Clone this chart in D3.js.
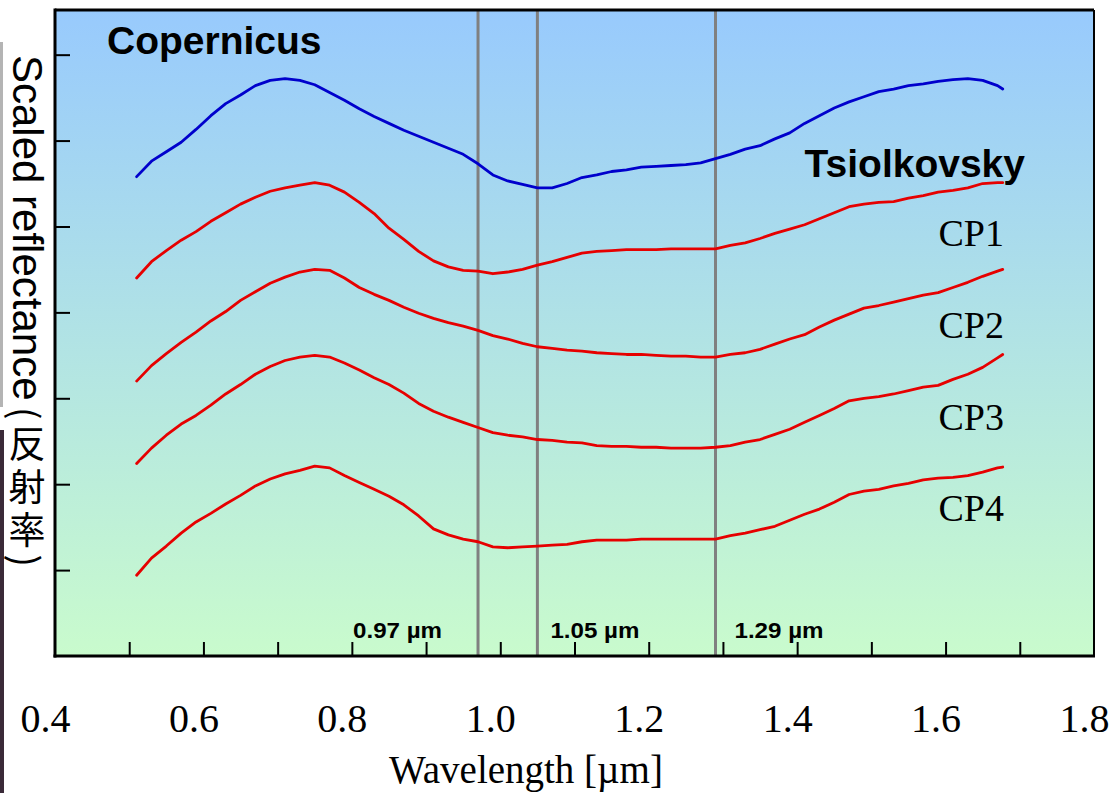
<!DOCTYPE html>
<html><head><meta charset="utf-8">
<script src="https://cdn.jsdelivr.net/npm/d3@7"></script>
<style>body{margin:0;background:#fff}svg{display:block}</style>
</head><body><svg id="c" width="1113" height="793"></svg>
<script>
// ---------------- data ----------------
const wavelength = [0.51,0.53,0.55,0.57,0.59,0.61,0.63,0.65,0.67,0.69,0.71,0.73,0.75,0.77,0.79,0.81,0.83,0.85,0.87,0.89,
  0.91,0.93,0.95,0.97,0.99,1.01,1.03,1.05,1.07,1.09,1.11,1.13,1.15,1.17,1.19,1.21,1.23,1.25,1.27,1.29,
  1.31,1.33,1.35,1.37,1.39,1.41,1.43,1.45,1.47,1.49,1.51,1.53,1.55,1.57,1.59,1.61,1.63,1.65,1.67,1.677];
const copernicus = [5.58,5.76,5.87,5.98,6.13,6.29,6.43,6.53,6.64,6.70,6.72,6.70,6.65,6.56,6.47,6.37,6.28,6.20,6.12,6.05,
  5.98,5.91,5.84,5.73,5.60,5.53,5.49,5.45,5.45,5.50,5.57,5.60,5.64,5.66,5.69,5.70,5.71,5.72,5.74,5.79,
  5.84,5.90,5.94,6.02,6.09,6.20,6.29,6.38,6.45,6.51,6.57,6.60,6.64,6.66,6.69,6.71,6.72,6.70,6.64,6.60];
const cp1 = [4.40,4.59,4.72,4.84,4.94,5.06,5.16,5.26,5.34,5.41,5.45,5.48,5.51,5.48,5.40,5.28,5.15,4.98,4.85,4.71,
  4.60,4.53,4.49,4.48,4.45,4.47,4.50,4.55,4.59,4.64,4.69,4.71,4.72,4.73,4.73,4.73,4.74,4.74,4.74,4.74,
  4.78,4.81,4.86,4.92,4.97,5.02,5.09,5.16,5.23,5.26,5.28,5.29,5.33,5.36,5.40,5.42,5.45,5.50,5.51,5.51];
const cp2 = [3.20,3.38,3.52,3.65,3.77,3.90,4.01,4.14,4.24,4.34,4.41,4.47,4.50,4.49,4.40,4.29,4.21,4.14,4.06,3.99,
  3.93,3.88,3.84,3.79,3.73,3.69,3.64,3.60,3.58,3.56,3.55,3.53,3.52,3.51,3.51,3.50,3.49,3.49,3.48,3.48,
  3.51,3.53,3.57,3.63,3.69,3.74,3.83,3.91,3.98,4.05,4.08,4.12,4.16,4.20,4.23,4.29,4.35,4.42,4.48,4.50];
const cp3 = [2.24,2.42,2.57,2.70,2.80,2.92,3.05,3.16,3.28,3.37,3.44,3.48,3.50,3.48,3.41,3.33,3.24,3.16,3.06,2.94,
  2.85,2.78,2.72,2.66,2.60,2.57,2.55,2.52,2.51,2.49,2.48,2.45,2.44,2.44,2.43,2.43,2.42,2.42,2.42,2.43,
  2.45,2.49,2.52,2.58,2.64,2.72,2.80,2.88,2.97,3.00,3.02,3.05,3.09,3.13,3.15,3.22,3.28,3.36,3.47,3.51];
const cp4 = [0.94,1.14,1.28,1.43,1.56,1.66,1.77,1.87,1.98,2.06,2.12,2.16,2.21,2.19,2.10,2.02,1.94,1.86,1.76,1.63,
  1.48,1.41,1.36,1.33,1.27,1.26,1.27,1.28,1.29,1.30,1.33,1.35,1.35,1.35,1.36,1.36,1.36,1.36,1.36,1.36,
  1.40,1.43,1.47,1.51,1.58,1.65,1.71,1.79,1.88,1.92,1.94,1.98,2.01,2.05,2.07,2.08,2.10,2.14,2.19,2.20];

const seriesNames = ["Copernicus","CP1","CP2","CP3","CP4"];
const seriesValues = [copernicus, cp1, cp2, cp3, cp4];
const seriesColors = ["#0000CC","#E60000","#E60000","#E60000","#E60000"];
const cpLabels = ["CP1","CP2","CP3","CP4"];
const cpLabelValues = [4.77, 3.7, 2.63, 1.57];   // vertical positions of the CP labels (in y units)
const xTickLabels = ["0.4","0.6","0.8","1.0","1.2","1.4","1.6","1.8"];
const xMinorTicks = [0.5,0.6,0.7,0.8,0.9,1.0,1.1,1.2,1.3,1.4,1.5,1.6,1.7];
const yTicks = [1,2,3,4,5,6,7];
const bandWavelengths = [0.97, 1.05, 1.29];
const bandLabels = ["0.97 µm","1.05 µm","1.29 µm"];
const xLabel = "Wavelength [µm]";
const yLabelLatin = "Scaled reflectance";
const yLabelCJK = "(反射率)";

// ---------------- layout ----------------
const svg = d3.select("#c");
const L = 55, R = 1094, T = 10, B = 656;
const x = d3.scaleLinear().domain([0.4, 1.8]).range([L, R]);
const y = d3.scaleLinear().domain([0, 7.52]).range([B, T]);

// left-edge strips of the underlying photo
svg.append("rect").attr("x",0).attr("y",42).attr("width",3).attr("height",365).attr("fill","#b4b4b4");
svg.append("rect").attr("x",0).attr("y",430).attr("width",4).attr("height",363).attr("fill","#3a2a38");

const defs = svg.append("defs");
const grad = defs.append("linearGradient").attr("id","bg").attr("x1",0).attr("x2",0).attr("y1",0).attr("y2",1);
grad.append("stop").attr("offset","0%").attr("stop-color","#98CAFD");
grad.append("stop").attr("offset","100%").attr("stop-color","#C9FBCD");
svg.append("rect").attr("x",L).attr("y",T).attr("width",R-L).attr("height",B-T).attr("fill","url(#bg)");

// band lines
svg.selectAll("line.band").data(bandWavelengths).join("line")
  .attr("class","band")
  .attr("x1",d=>x(d)).attr("x2",d=>x(d)).attr("y1",T).attr("y2",B)
  .attr("stroke","#808080").attr("stroke-width",3);

// band labels
const bandOffsets = [-36, 13, 19];
const bandAnchors = ["end","start","start"];
svg.selectAll("text.band").data(bandLabels).join("text")
  .attr("class","band")
  .attr("x",(d,i)=>x(bandWavelengths[i]) + bandOffsets[i])
  .attr("y",638)
  .attr("text-anchor",(d,i)=>bandAnchors[i])
  .attr("font-family","Liberation Sans, Arial, sans-serif").attr("font-weight","bold")
  .attr("font-size",22).attr("textLength",89).attr("lengthAdjust","spacingAndGlyphs")
  .text(d=>d);

// curves
const line = d3.line().x((d,i)=>x(wavelength[i])).y(d=>y(d));
svg.selectAll("path.series").data(seriesValues).join("path")
  .attr("class","series")
  .attr("d",d=>line(d))
  .attr("fill","none")
  .attr("stroke",(d,i)=>seriesColors[i])
  .attr("stroke-width",2.8)
  .attr("stroke-linejoin","round").attr("stroke-linecap","round");

// axes
const xAxisMinor = d3.axisBottom(x).tickValues(xMinorTicks).tickSize(-14).tickFormat("");
const gx = svg.append("g").attr("transform",`translate(0,${B})`).call(xAxisMinor);
gx.select(".domain").remove();
gx.selectAll(".tick line").attr("stroke","#000").attr("stroke-width",2);

const xAxisLabels = d3.axisBottom(x).tickValues(xTickLabels.map(Number)).tickSize(0).tickPadding(0)
  .tickFormat((d,i)=>xTickLabels[i]);
const gxl = svg.append("g").attr("transform",`translate(0,${B})`).call(xAxisLabels);
gxl.select(".domain").remove();
gxl.selectAll(".tick text")
  .attr("font-family","Liberation Serif, Times New Roman, serif").attr("font-size",40)
  .attr("fill","#000").attr("dy",null).attr("y",76).attr("dx",-10);

const yAxis = d3.axisLeft(y).tickValues(yTicks).tickSize(-15).tickFormat("");
const gy = svg.append("g").attr("transform",`translate(${L},0)`).call(yAxis);
gy.select(".domain").remove();
gy.selectAll(".tick line").attr("stroke","#000").attr("stroke-width",2);

// frame
svg.append("line").attr("x1",L).attr("x2",R).attr("y1",T).attr("y2",T).attr("stroke","#000").attr("stroke-width",3);
svg.append("line").attr("x1",R).attr("x2",R).attr("y1",T).attr("y2",B).attr("stroke","#000").attr("stroke-width",2);
svg.append("line").attr("x1",L).attr("x2",L).attr("y1",T-1.5).attr("y2",B+1.5).attr("stroke","#000").attr("stroke-width",3);
svg.append("line").attr("x1",L-1.5).attr("x2",R+1).attr("y1",B).attr("y2",B).attr("stroke","#000").attr("stroke-width",3);

// titles inside plot
svg.append("text").attr("x",107).attr("y",54)
  .attr("font-family","Liberation Sans, Arial, sans-serif").attr("font-weight","bold").attr("font-size",39)
  .text(seriesNames[0]);
svg.append("text").attr("x",1025).attr("y",177).attr("text-anchor","end")
  .attr("font-family","Liberation Sans, Arial, sans-serif").attr("font-weight","bold").attr("font-size",39)
  .text("Tsiolkovsky");

svg.selectAll("text.cp").data(cpLabels).join("text")
  .attr("class","cp")
  .attr("x",1004).attr("y",(d,i)=>y(cpLabelValues[i]))
  .attr("text-anchor","end")
  .attr("font-family","Liberation Serif, Times New Roman, serif").attr("font-size",38)
  .text(d=>d);

// axis titles
svg.append("text").attr("x",526).attr("y",783).attr("text-anchor","middle")
  .attr("font-family","Liberation Serif, Times New Roman, serif").attr("font-size",39)
  .text(xLabel);

// y title: one vertical text, Latin rotated sideways, CJK upright
const yl = svg.append("text")
  .attr("x",27).attr("y",55)
  .style("writing-mode","vertical-rl").style("text-orientation","mixed")
  .attr("font-size",42).attr("font-family","Liberation Sans, Arial, 'Noto Sans CJK JP', sans-serif");
yl.append("tspan").text(yLabelLatin);
yl.append("tspan").attr("dy",6).attr("font-family","'Noto Sans CJK JP', sans-serif").attr("font-size",37)
  .attr("letter-spacing",6)
  .text(yLabelCJK);
</script></body></html>
